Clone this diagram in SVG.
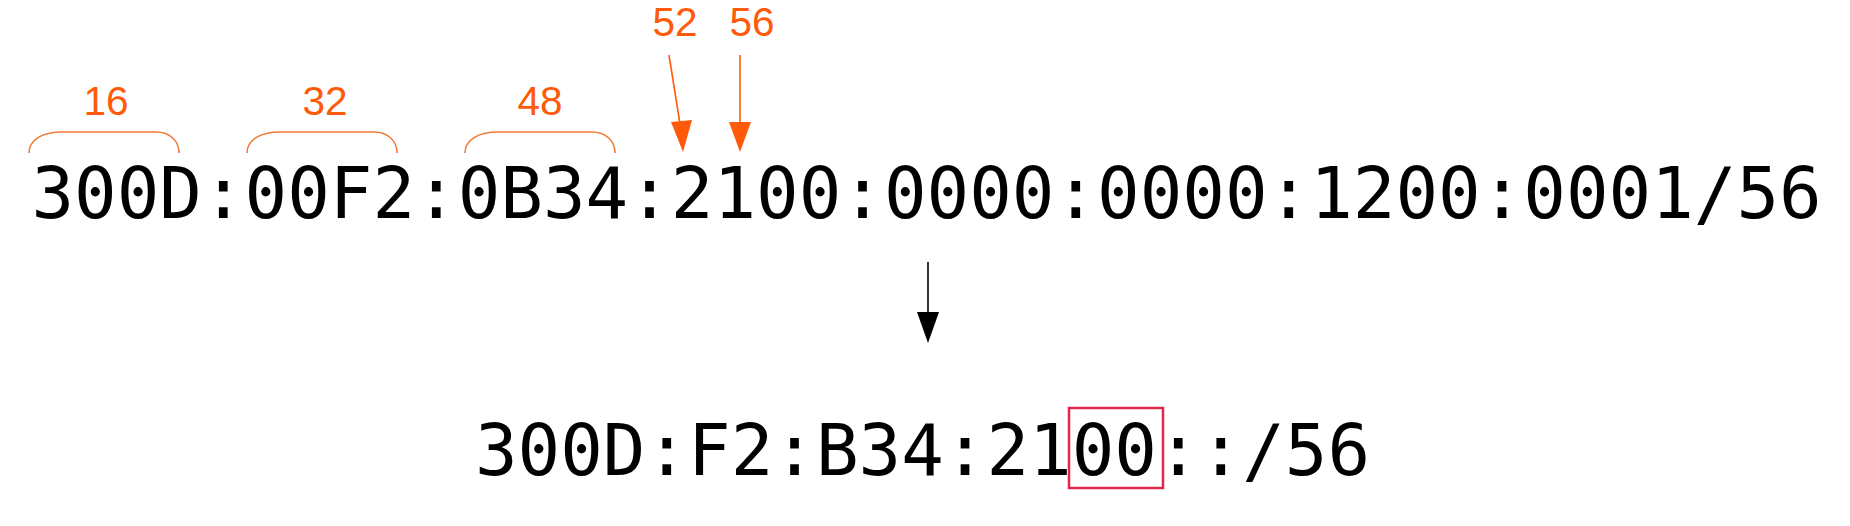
<svg xmlns="http://www.w3.org/2000/svg" width="1850" height="526" viewBox="0 0 1850 526">
<style>
.addr{font-family:"DejaVu Sans Mono","Liberation Mono",monospace;font-size:70.8px;fill:#000}
.num{font-family:"Liberation Sans",Arial,sans-serif;font-size:40.5px;fill:#ff5a0a;text-anchor:middle}
.brace{fill:none;stroke:#f07a3a;stroke-width:1.6}
.oline{stroke:#ff5a0a;stroke-width:1.6;fill:none}
.bline{stroke:#000;stroke-width:1.6;fill:none}
</style>
<rect width="1850" height="526" fill="#fff"/>
<g id="full-address">
<text class="addr" x="31.5" y="218">300D:00F2:0B34:2100:0000:0000:1200:0001/56</text>
</g>
<g id="labels">
<text class="num" x="106" y="115">16</text>
<text class="num" x="325" y="115">32</text>
<text class="num" x="540" y="115">48</text>
<text class="num" x="675" y="36">52</text>
<text class="num" x="752" y="36">56</text>
</g>
<g id="braces">
<path class="brace" d="M29,153 C29,140 42,132 62,132 L156,132 C170,132 179,141 179,153"/>
<path class="brace" d="M247,153 C247,140 260,132 280,132 L374,132 C388,132 397,141 397,153"/>
<path class="brace" d="M465,153 C465,140 478,132 498,132 L592,132 C606,132 615,141 615,153"/>
</g>
<g id="connectors">
<line class="oline" x1="669" y1="55" x2="680" y2="124"/>
<polygon points="671,122 692,120 683,152" fill="#ff5a0a"/>
<line class="oline" x1="740" y1="55" x2="740" y2="124"/>
<polygon points="729,122 751,122 740,152" fill="#ff5a0a"/>
<line class="bline" x1="928" y1="262" x2="928" y2="314"/>
<polygon points="917,312 939,312 928,343" fill="#000"/>
</g>
<g id="short-address">
<text class="addr" x="475" y="475">300D:F2:B34:2100::/56</text>
<rect x="1069" y="408" width="94" height="80" fill="none" stroke="#e0284a" stroke-width="2.5"/>
</g>
</svg>
